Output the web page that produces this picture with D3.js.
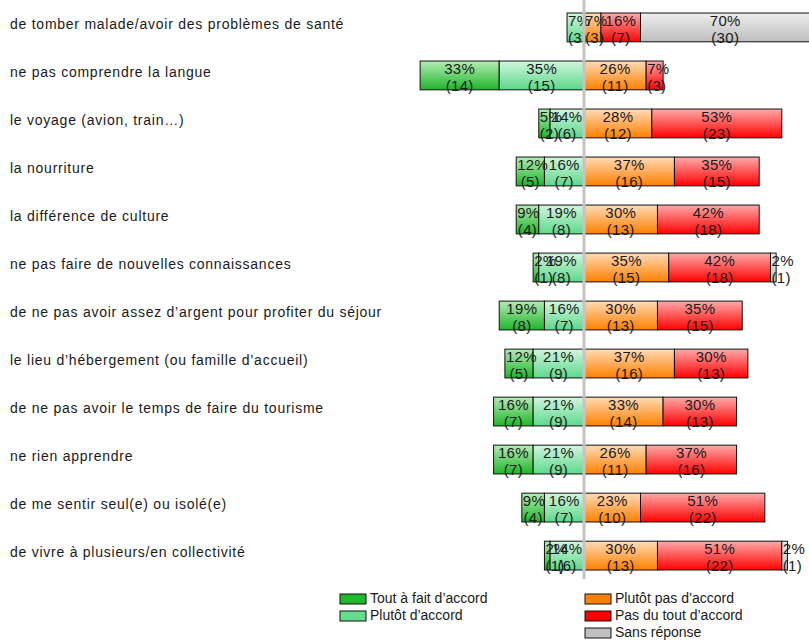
<!DOCTYPE html>
<html lang="fr">
<head>
<meta charset="UTF-8">
<title>Diverging bar chart</title>
<script src="https://d3js.org/d3.v7.min.js"></script>
<style>
  body { margin: 0; background: #fff; }
  svg { font-family: "Liberation Sans", Arial, sans-serif; }
  .row-label { font-size: 14px; fill: #1a1a1a; letter-spacing: 0.75px; }
  .seg-label { font-size: 15px; fill: #1a1a1a; letter-spacing: 0.3px; }
  .legend text { font-size: 14px; fill: #1a1a1a; }
</style>
</head>
<body>
<svg id="chart"></svg>
<script>
const width = 809;
const height = 640;

// questions (top to bottom)
const categories = [
  "de tomber malade/avoir des problèmes de santé",
  "ne pas comprendre la langue",
  "le voyage (avion, train…)",
  "la nourriture",
  "la différence de culture",
  "ne pas faire de nouvelles connaissances",
  "de ne pas avoir assez d’argent pour profiter du séjour",
  "le lieu d’hébergement (ou famille d’accueil)",
  "de ne pas avoir le temps de faire du tourisme",
  "ne rien apprendre",
  "de me sentir seul(e) ou isolé(e)",
  "de vivre à plusieurs/en collectivité"
];

const seriesNames = ["Tout à fait d’accord", "Plutôt d’accord", "Plutôt pas d’accord", "Pas du tout d’accord", "Sans réponse"];

// counts (respondents) per answer
const toutAFait   = [0, 14, 2, 5, 4, 1, 8, 5, 7, 7, 4, 1];
const plutot      = [3, 15, 6, 7, 8, 8, 7, 9, 9, 9, 7, 6];
const plutotPas   = [3, 11, 12, 16, 13, 15, 13, 16, 14, 11, 10, 13];
const pasDuTout   = [7, 3, 23, 15, 18, 18, 15, 13, 13, 16, 22, 22];
const sansReponse = [30, 0, 0, 0, 0, 1, 0, 0, 0, 0, 0, 1];

// percentages shown on the bars
const pctToutAFait   = [0, 33, 5, 12, 9, 2, 19, 12, 16, 16, 9, 2];
const pctPlutot      = [7, 35, 14, 16, 19, 19, 16, 21, 21, 21, 16, 14];
const pctPlutotPas   = [7, 26, 28, 37, 30, 35, 30, 37, 33, 26, 23, 30];
const pctPasDuTout   = [16, 7, 53, 35, 42, 42, 35, 30, 30, 37, 51, 51];
const pctSansReponse = [70, 0, 0, 0, 0, 2, 0, 0, 0, 0, 0, 2];

const total = 43;
const centerX = 584;

const colors = [
  { top: "#b4ecb4", bottom: "#1fb52a", solid: "#22b82c" },
  { top: "#d2f6de", bottom: "#5cd88a", solid: "#66dd8e" },
  { top: "#ffdcb8", bottom: "#ff7f00", solid: "#ff8000" },
  { top: "#ffaaaa", bottom: "#ff0000", solid: "#ff0000" },
  { top: "#eeeeee", bottom: "#bdbdbd", solid: "#c0c0c0" }
];

const svg = d3.select("#chart").attr("width", width).attr("height", height);

const defs = svg.append("defs");
colors.forEach((c, i) => {
  const g = defs.append("linearGradient")
    .attr("id", "grad" + i)
    .attr("x1", 0).attr("y1", 0).attr("x2", 0).attr("y2", 1);
  g.append("stop").attr("offset", "0%").attr("stop-color", c.top);
  g.append("stop").attr("offset", "100%").attr("stop-color", c.bottom);
});

// x: respondents -> pixel length
const x = d3.scaleLinear().domain([0, total]).range([0, 243]);
const y = d3.scaleBand()
  .domain(categories)
  .range([13, 570])
  .paddingInner(0.4)
  .paddingOuter(0);

// build segments per row
const segments = [];
categories.forEach((cat, i) => {
  const cnt = [toutAFait[i], plutot[i], plutotPas[i], pasDuTout[i], sansReponse[i]];
  const pct = [pctToutAFait[i], pctPlutot[i], pctPlutotPas[i], pctPasDuTout[i], pctSansReponse[i]];
  // left side
  let left = centerX - x(cnt[0] + cnt[1]);
  for (let k = 0; k < 2; k++) {
    if (cnt[k] > 0) segments.push({ cat, k, x0: left, w: x(cnt[k]), pct: pct[k], n: cnt[k] });
    left += x(cnt[k]);
  }
  let right = centerX;
  for (let k = 2; k < 5; k++) {
    if (cnt[k] > 0) segments.push({ cat, k, x0: right, w: x(cnt[k]), pct: pct[k], n: cnt[k] });
    right += x(cnt[k]);
  }
});

// row labels
svg.selectAll(".row-label")
  .data(categories)
  .enter().append("text")
  .attr("class", "row-label")
  .attr("x", 10)
  .attr("y", d => y(d) + 16)
  .text(d => d);

// bars
svg.selectAll(".seg")
  .data(segments)
  .enter().append("rect")
  .attr("class", "seg")
  .attr("x", d => d.x0)
  .attr("y", d => y(d.cat))
  .attr("width", d => d.w)
  .attr("height", y.bandwidth())
  .attr("fill", d => "url(#grad" + d.k + ")")
  .attr("stroke", "#111")
  .attr("stroke-width", 1);

// labels, centered but never starting before the bar's left edge
function placeLabel(sel, dy, fmt) {
  sel.each(function(d) {
    const t = d3.select(this).text(fmt(d));
    const tw = this.getComputedTextLength();
    const cx = Math.max(d.x0 + d.w / 2, d.x0 + 1 + tw / 2);
    t.attr("x", cx).attr("y", y(d.cat) + dy).attr("text-anchor", "middle");
  });
}

const g1 = svg.append("g");
placeLabel(g1.selectAll("text").data(segments).enter().append("text").attr("class", "seg-label"), 13, d => d.pct + "%");
const g2 = svg.append("g");
placeLabel(g2.selectAll("text").data(segments).enter().append("text").attr("class", "seg-label"), 30, d => "(" + d.n + ")");

// center line
svg.append("line")
  .attr("x1", centerX).attr("x2", centerX)
  .attr("y1", 0).attr("y2", 579)
  .attr("stroke", "#c4c4c4")
  .attr("stroke-width", 3);

// legend
const legendItems = [
  { k: 0, x: 340, y: 603 },
  { k: 1, x: 340, y: 620 },
  { k: 2, x: 585, y: 603 },
  { k: 3, x: 585, y: 620 },
  { k: 4, x: 585, y: 637 }
];
const lg = svg.append("g").attr("class", "legend")
  .selectAll("g")
  .data(legendItems)
  .enter().append("g")
  .attr("transform", d => `translate(${d.x},${d.y})`);
lg.append("rect")
  .attr("x", 0).attr("y", -9)
  .attr("width", 26).attr("height", 10)
  .attr("fill", d => colors[d.k].solid)
  .attr("stroke", "#111")
  .attr("stroke-width", 1);
lg.append("text")
  .attr("x", 30).attr("y", 0)
  .text(d => seriesNames[d.k]);
</script>
</body>
</html>
